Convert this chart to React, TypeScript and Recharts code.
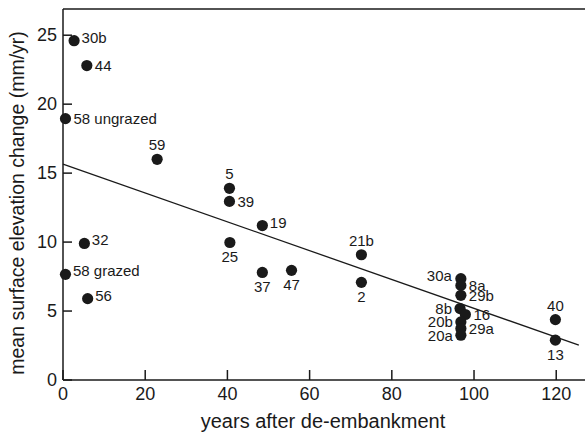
import { ReferenceLine, Scatter, ScatterChart, XAxis, YAxis } from "recharts";

// marsh sites: years since de-embankment vs. mean surface elevation change
const sites = [
  "30b", "44", "58 ungrazed", "59", "5", "39", "19", "25", "37", "47", "32", "58 grazed",
  "56", "21b", "2", "30a", "8a", "29b", "8b", "16", "20b", "29a", "20a", "40", "13",
];
const years = [
  2.7, 5.8, 0.6, 22.9, 40.5, 40.5, 48.5, 40.6, 48.5, 55.6, 5.2, 0.6,
  6.0, 72.6, 72.6, 96.8, 96.8, 96.8, 96.6, 97.9, 96.8, 96.8, 96.8, 119.8, 119.8,
];
const rates = [
  24.6, 22.8, 18.95, 16.0, 13.9, 12.95, 11.2, 9.97, 7.8, 7.95, 9.9, 7.66,
  5.9, 9.08, 7.08, 7.35, 6.86, 6.14, 5.18, 4.75, 4.21, 3.73, 3.25, 4.38, 2.89,
];
// which side of the dot each site label sits on
const labelSide = [
  "ru", "r", "r", "t", "t", "r", "ru", "b", "b", "b", "ru", "ru",
  "ru", "t", "b", "lu", "r", "r", "l", "r", "l", "r", "l", "t", "b",
];

// least-squares fit, end points
const fitStart = { x: 0, y: 15.65 };
const fitEnd = { x: 125.5, y: 2.53 };

const xTicks = [0, 20, 40, 60, 80, 100, 120];
const yTicks = [0, 5, 10, 15, 20, 25];
const xMax = 127;
const yMax = 26.9;

const points = sites.map((name, i) => ({
  name,
  x: years[i],
  y: rates[i],
  side: labelSide[i],
}));

const FONT = "'Liberation Sans', Arial, Helvetica, sans-serif";
const INK = "#1a1a1a";

const offsets: Record<string, { dx: number; dy: number; anchor: "start" | "middle" | "end" }> = {
  r: { dx: 8, dy: 0, anchor: "start" },
  ru: { dx: 7.5, dy: -3.5, anchor: "start" },
  l: { dx: -8, dy: 0, anchor: "end" },
  lu: { dx: -9, dy: -3, anchor: "end" },
  t: { dx: 0, dy: -14.5, anchor: "middle" },
  b: { dx: 0, dy: 14.5, anchor: "middle" },
};

function SiteDot(props: any) {
  const { cx, cy, payload } = props;
  const o = offsets[payload.side];
  return (
    <g>
      <circle cx={cx} cy={cy} r={5.6} fill={INK} />
      <text
        x={cx + o.dx}
        y={cy + o.dy}
        textAnchor={o.anchor}
        dominantBaseline="central"
        fontSize={15}
        fontFamily={FONT}
        fill={INK}
      >
        {payload.name}
      </text>
    </g>
  );
}

function YTick(props: any) {
  const { x, y, payload } = props;
  return (
    <g>
      <line x1={x} y1={y} x2={x + 9} y2={y} stroke={INK} strokeWidth={1.5} />
      <text x={x - 6} y={y} textAnchor="end" dominantBaseline="central" fontSize={18} fontFamily={FONT} fill={INK}>
        {payload.value}
      </text>
    </g>
  );
}

function XTick(props: any) {
  const { x, y, payload } = props;
  return (
    <g>
      <line x1={x} y1={y} x2={x} y2={y - 10} stroke={INK} strokeWidth={1.5} />
      <text x={x} y={y + 20} textAnchor="middle" fontSize={18} fontFamily={FONT} fill={INK}>
        {payload.value}
      </text>
    </g>
  );
}

export default function App() {
  return (
    <div style={{ position: "absolute", left: 0, top: 0, width: 585, height: 435, background: "#fff" }}>
      <ScatterChart width={585} height={435} margin={{ top: 9, right: 0, bottom: 0, left: 0 }}>
        <XAxis
          type="number"
          dataKey="x"
          domain={[0, xMax]}
          ticks={xTicks}
          tickSize={0}
          tickMargin={0}
          tick={<XTick />}
          tickLine={false}
          height={55}
          axisLine={{ stroke: INK, strokeWidth: 1.5 }}
          label={{
            value: "years after de-embankment",
            content: (p: any) => {
              const vb = p.viewBox;
              return (
                <text x={323} y={vb.y + 48} textAnchor="middle" fontSize={20} fontFamily={FONT} fill={INK}>
                  years after de-embankment
                </text>
              );
            },
          }}
        />
        <YAxis
          type="number"
          dataKey="y"
          domain={[0, yMax]}
          ticks={yTicks}
          tickSize={0}
          tickMargin={0}
          tick={<YTick />}
          tickLine={false}
          width={63}
          axisLine={{ stroke: INK, strokeWidth: 1.5 }}
          label={{
            value: "mean surface elevation change (mm/yr)",
            content: () => (
              <text
                x={24}
                y={203}
                transform="rotate(-90 24 203)"
                textAnchor="middle"
                fontSize={19.5}
                fontFamily={FONT}
                fill={INK}
              >
                mean surface elevation change (mm/yr)
              </text>
            ),
          }}
        />
        <ReferenceLine y={yMax} stroke={INK} strokeWidth={1.5} ifOverflow="visible" />
        <ReferenceLine
          segment={[fitStart, fitEnd]}
          stroke={INK}
          strokeWidth={1.3}
          ifOverflow="visible"
        />
        <Scatter data={points} shape={<SiteDot />} isAnimationActive={false} />
      </ScatterChart>
    </div>
  );
}
